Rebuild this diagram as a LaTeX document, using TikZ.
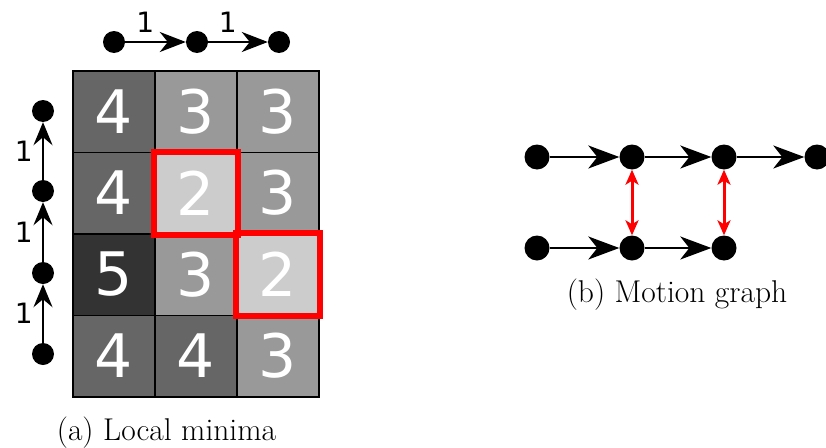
\documentclass[tikz,border=0pt]{standalone}
\usepackage{fontspec}
\newfontfamily\digitfont{DejaVu Sans}
\usetikzlibrary{arrows.meta}

\begin{document}
\begin{tikzpicture}[x=1pt, y=-1pt,
	dot/.style={fill=black, shape=circle, inner sep=0pt, minimum size=22pt},
	bigdot/.style={dot, minimum size=25pt},
	cell/.style={draw, line width=1.5pt, shape=rectangle, minimum width=82pt, minimum height=81.5pt, inner sep=0pt, text=white, font=\digitfont\fontsize{60}{60}\selectfont},
	weight/.style={font=\digitfont\fontsize{28}{28}\selectfont},
	minbox/.style={red, line width=6pt},
	caption/.style={font=\fontsize{31.5}{33}\selectfont}]
	\useasboundingbox (0,0) rectangle (826,447);
	% (a) cost grid
	\path(114,111.5) node[cell, fill=black!60](C11) {4};
	\path(196,111.5) node[cell, fill=black!40](C12) {3};
	\path(278,111.5) node[cell, fill=black!40](C13) {3};
	\path(114,193)   node[cell, fill=black!60](C21) {4};
	\path(196,193)   node[cell, fill=black!20](C22) {2};
	\path(278,193)   node[cell, fill=black!40](C23) {3};
	\path(114,274.5) node[cell, fill=black!80](C31) {5};
	\path(196,274.5) node[cell, fill=black!40](C32) {3};
	\path(278,274.5) node[cell, fill=black!20](C33) {2};
	\path(114,356)   node[cell, fill=black!60](C41) {4};
	\path(196,356)   node[cell, fill=black!60](C42) {4};
	\path(278,356)   node[cell, fill=black!40](C43) {3};
	\draw[minbox] (C22.north west) rectangle (C22.south east);
	\draw[minbox] (C33.north west) rectangle (C33.south east);
	% (a) neighbour chains
	\path(114,42) node[dot](T1) {};
	\path(197,42) node[dot](T2) {};
	\path(279,42) node[dot](T3) {};
	\path(43,354) node[dot](L1) {};
	\path(43,273) node[dot](L2) {};
	\path(43,191) node[dot](L3) {};
	\path(43,111) node[dot](L4) {};
	\draw[-{Stealth[length=26pt, width=20pt, inset=8pt]}, line width=2pt] (T1) edge node[weight, above=5pt, pos=0.33] {1} (T2);
	\draw[-{Stealth[length=26pt, width=20pt, inset=8pt]}, line width=2pt] (T2) edge node[weight, above=5pt, pos=0.33] {1} (T3);
	\draw[-{Stealth[length=23pt, width=19pt, inset=8pt]}, line width=2pt] (L1) edge node[weight, left=6pt, midway] {1} (L2);
	\draw[-{Stealth[length=23pt, width=19pt, inset=8pt]}, line width=2pt] (L2) edge node[weight, left=6pt, midway] {1} (L3);
	\draw[-{Stealth[length=23pt, width=19pt, inset=8pt]}, line width=2pt] (L3) edge node[weight, left=6pt, midway] {1} (L4);
	\path(166.5,440) node[caption, anchor=base](CapA) {(a) Local minima};
	% (b) motion graph
	\path(537,157) node[bigdot](M1) {};
	\path(632,157) node[bigdot](M2) {};
	\path(724,157) node[bigdot](M3) {};
	\path(817,157) node[bigdot](M4) {};
	\path(537,248) node[bigdot](N1) {};
	\path(632,248) node[bigdot](N2) {};
	\path(724,248) node[bigdot](N3) {};
	\draw[-{Stealth[length=31pt, width=23pt, inset=9pt]}, line width=2pt] (M1) edge (M2);
	\draw[-{Stealth[length=31pt, width=23pt, inset=9pt]}, line width=2pt] (M2) edge (M3);
	\draw[-{Stealth[length=31pt, width=23pt, inset=9pt]}, line width=2pt] (M3) edge (M4);
	\draw[-{Stealth[length=31pt, width=23pt, inset=9pt]}, line width=2pt] (N1) edge (N2);
	\draw[-{Stealth[length=31pt, width=23pt, inset=9pt]}, line width=2pt] (N2) edge (N3);
	\draw[{Stealth[length=15pt, width=13pt, inset=4pt]}-{Stealth[length=15pt, width=13pt, inset=4pt]}, red, line width=3pt] (M2) edge (N2);
	\draw[{Stealth[length=15pt, width=13pt, inset=4pt]}-{Stealth[length=15pt, width=13pt, inset=4pt]}, red, line width=3pt] (M3) edge (N3);
	\path(677,302.5) node[caption, anchor=base](CapB) {(b) Motion graph};
\end{tikzpicture}
\end{document}
